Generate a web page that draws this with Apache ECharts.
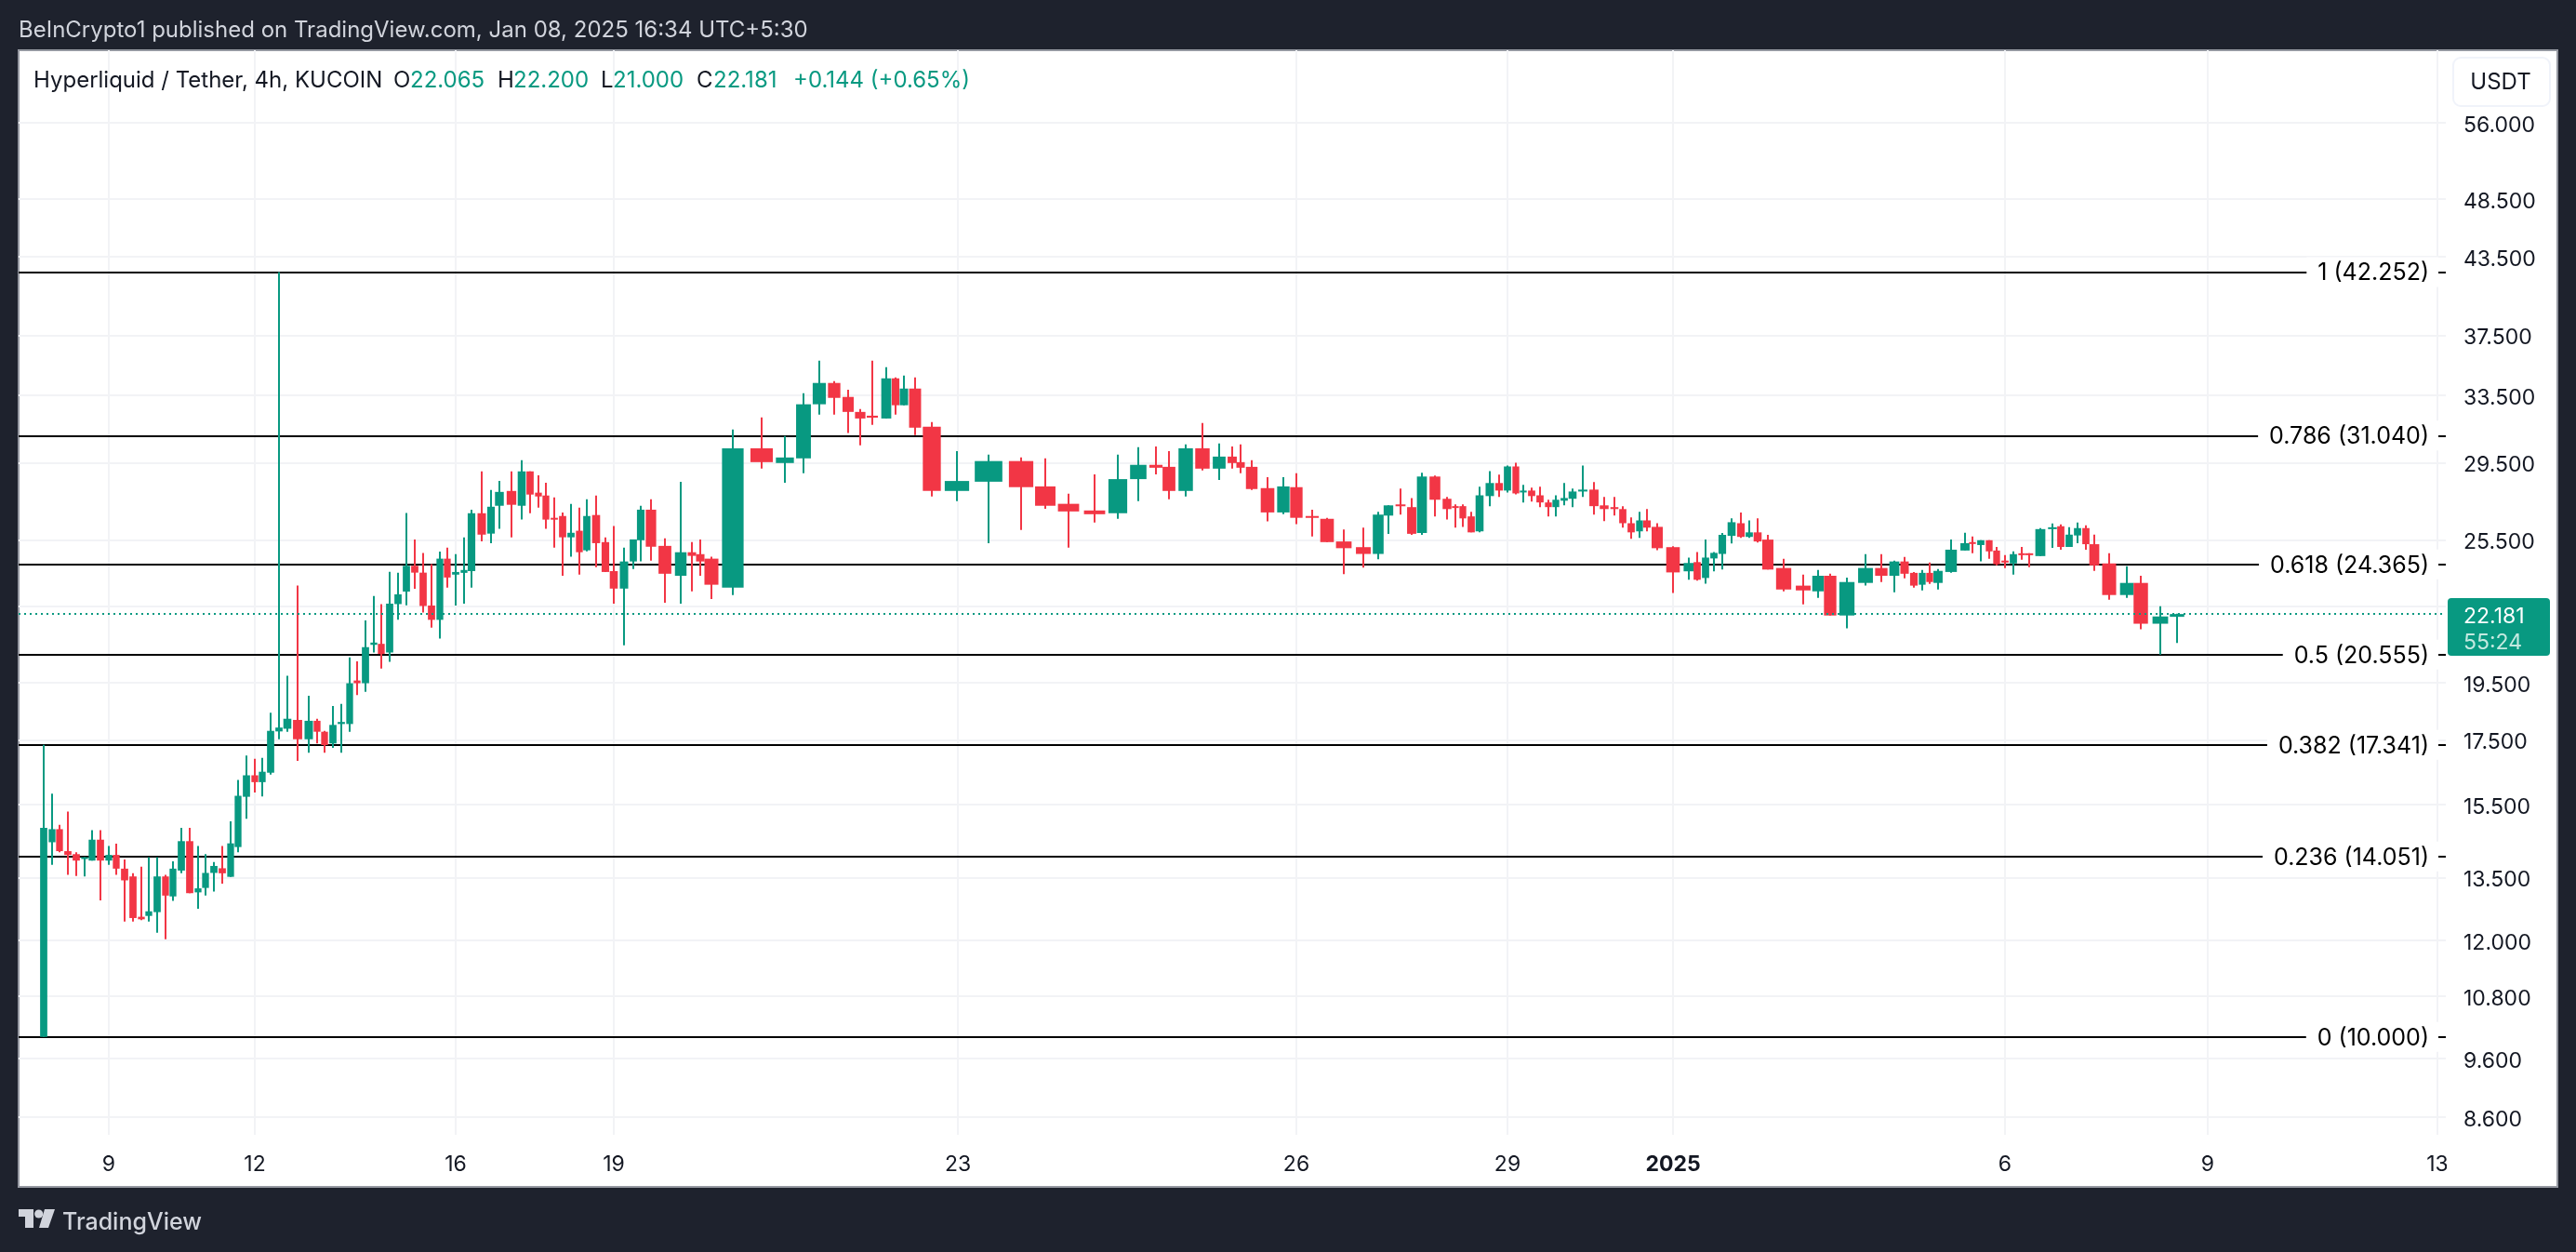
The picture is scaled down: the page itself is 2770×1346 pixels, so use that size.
<!DOCTYPE html>
<html>
<head>
<meta charset="utf-8">
<title>Hyperliquid / Tether, 4h</title>
<style>
html, body { margin: 0; padding: 0; background: #1e222d; }
#main { width: 2770px; height: 1346px; }
</style>
</head>
<body>
<div id="main"></div>
<script src="https://cdn.jsdelivr.net/npm/echarts@6/dist/echarts.min.js"></script>
<script>
// place of each bar on the chart's time scale (the scale is uneven in the picture)
var barTime = [
27,36,44,53,62,71,79,88,97,105,114,123,132,140,149,158,166,175,184,193,201,210,219,228,236,245,254,262,271,280,289,300,
312,321,329,338,347,356,364,373,382,390,399,408,417,426,435,444,453,461,470,479,487,498,508,517,530,541,550,559,567,576,
585,594,603,611,621,631,640,651,661,669,680,695,712,724,733,745,768,799,824,844,861,877,892,905,918,933,943,952,964,982,
1009,1043,1078,1104,1129,1157,1182,1204,1223,1237,1255,1273,1291,1305,1314,1326,1343,1360,1374,1391,1407,1425,1446,1462,
1473,1486,1498,1509,1523,1536,1545,1553,1562,1571,1582,1592,1601,1610,1618,1627,1636,1645,1653,1662,1671,1682,1694,1705,
1716,1725,1734,1743,1751,1762,1779,1796,1805,1814,1823,1832,1842,1852,1861,1870,1881,1898,1919,1935,1948,1966,1986,2003,
2017,2028,2038,2047,2055,2064,2078,2093,2101,2110,2119,2127,2136,2145,2154,2162,2174,2187,2196,2205,2214,2223,2232,2248,
2267,2282,2303,2321
];

// open, close, low, high
var candles = [
[10.00,14.83,10.00,17.34],[14.43,14.79,13.83,15.81],[14.79,14.19,14.16,14.91],[14.19,14.09,13.57,15.29],
[14.11,13.94,13.54,14.16],[14.00,14.03,13.53,14.03],[13.94,14.50,13.94,14.76],[14.50,13.94,12.93,14.76],
[13.94,14.09,13.83,14.33],[14.09,13.73,13.57,14.39],[13.73,13.43,12.43,13.97],[13.53,12.51,12.43,13.61],
[12.54,12.48,12.46,13.78],[12.56,12.67,12.43,14.03],[12.65,13.53,12.17,14.03],[13.53,13.05,12.02,13.57],
[13.03,13.73,12.92,13.92],[13.68,14.46,13.61,14.83],[14.46,13.11,13.11,14.83],[13.13,13.23,12.73,14.33],
[13.24,13.62,13.05,14.11],[13.62,13.80,13.15,13.90],[13.74,13.61,13.35,14.33],[13.52,14.40,13.52,15.01],
[14.30,15.75,14.16,16.23],[15.72,16.37,15.08,16.99],[16.37,16.16,15.85,16.89],[16.16,16.48,15.73,16.92],
[16.45,17.80,16.39,18.42],[17.78,17.91,17.52,42.25],[17.87,18.21,17.77,19.75],[18.17,17.52,16.82,23.40],
[17.52,18.14,17.08,19.02],[18.14,17.77,17.38,18.21],[17.77,17.33,17.08,17.80],[17.38,18.00,17.24,18.65],
[18.03,18.10,17.08,18.73],[18.03,19.47,17.77,20.44],[19.57,19.47,19.04,20.29],[19.47,20.84,19.16,21.92],
[20.93,21.02,20.63,22.95],[20.97,20.57,20.02,22.60],[20.63,22.62,20.27,24.02],[22.60,23.02,21.94,23.98],
[23.14,24.29,22.55,26.83],[24.29,23.98,23.26,25.52],[23.98,22.52,22.24,24.88],[22.54,21.94,21.62,24.37],
[21.94,24.62,21.18,24.95],[24.62,23.76,23.31,25.14],[23.89,24.01,22.54,24.83],[23.97,24.10,22.62,25.63],
[24.05,26.82,23.31,27.00],[26.82,25.76,25.44,29.02],[25.81,27.15,25.35,28.02],[27.20,27.92,26.04,28.50],
[27.97,27.25,25.63,29.02],[27.20,29.02,26.50,29.64],[29.02,27.78,26.82,29.02],[27.88,27.68,27.10,28.81],
[27.73,26.50,26.04,28.41],[26.59,26.50,25.14,27.63],[26.68,25.63,23.84,26.86],[25.63,25.85,24.71,27.30],
[25.95,24.92,23.89,27.10],[25.01,26.68,24.96,27.53],[26.73,25.35,24.23,27.73],[25.40,24.01,24.01,25.63],
[24.05,23.27,22.62,26.18],[23.27,24.49,20.91,25.14],[24.49,25.53,24.14,25.53],[25.49,27.00,24.49,27.20],
[27.00,25.18,24.53,27.53],[25.22,23.93,22.66,25.58],[23.84,24.92,22.62,28.46],[24.92,24.75,23.15,25.40],
[24.83,24.49,23.84,25.53],[24.62,23.44,22.82,24.71],[23.31,30.31,22.99,31.40],[30.31,29.53,29.17,32.12],
[29.48,29.79,28.41,31.02],[29.74,32.93,28.92,33.62],[32.93,34.28,32.29,35.75],[34.28,33.33,32.29,34.40],
[33.39,32.46,31.19,33.85],[32.46,32.06,30.48,32.64],[32.23,32.11,31.68,35.75],[32.06,34.58,32.06,35.32],
[34.58,32.87,32.29,34.64],[32.87,33.92,32.87,34.76],[33.92,31.51,31.08,34.64],[31.57,27.97,27.68,31.84],
[27.97,28.50,27.44,30.15],[28.46,29.59,25.35,29.95],[29.59,28.17,25.99,29.79],[28.21,27.20,27.05,29.74],
[27.30,26.91,25.14,27.83],[26.96,26.77,26.36,28.86],[26.82,28.60,26.54,29.95],[28.60,29.38,27.44,30.37],
[29.38,29.22,28.86,30.42],[29.27,27.97,27.53,30.15],[27.97,30.31,27.68,30.53],[30.31,29.17,29.07,31.79],
[29.17,29.84,28.55,30.59],[29.84,29.48,29.17,30.42],[29.53,29.22,28.92,30.53],[29.27,28.07,28.02,29.64],
[28.12,26.86,26.41,28.71],[26.86,28.21,26.77,28.71],[28.17,26.59,26.27,28.92],[26.68,26.59,25.67,27.00],
[26.54,25.40,25.40,26.59],[25.43,25.11,23.91,26.01],[25.16,24.84,24.21,26.10],[24.84,26.75,24.59,26.89],
[26.70,27.22,25.80,27.22],[27.27,27.18,26.75,28.09],[27.13,25.80,25.75,27.60],[25.84,28.74,25.75,28.94],
[28.74,27.51,26.66,28.79],[27.56,27.03,26.51,27.65],[27.18,27.13,26.10,27.27],[27.18,26.56,26.14,27.27],
[26.66,25.87,25.87,26.89],[25.92,27.74,25.87,28.19],[27.70,28.39,27.18,29.04],[28.39,27.99,27.65,28.84],
[27.99,29.29,27.89,29.34],[29.29,27.84,27.79,29.49],[27.89,27.99,27.37,28.29],[27.99,27.70,27.41,28.14],
[27.74,27.37,27.13,28.19],[27.37,27.13,26.66,27.51],[27.13,27.51,26.66,27.74],[27.46,27.60,27.22,28.39],
[27.56,27.94,27.13,28.09],[27.94,28.04,27.65,29.34],[28.04,27.18,26.75,28.44],[27.22,27.03,26.42,27.65],
[27.13,27.03,26.70,27.65],[27.03,26.32,26.10,27.18],[26.32,25.87,25.56,26.61],[25.92,26.46,25.60,26.89],
[26.46,26.10,25.92,27.03],[26.14,25.11,25.02,26.32],[25.16,23.99,23.08,25.20],[24.04,24.42,23.66,24.67],
[24.46,23.66,23.62,24.93],[23.74,24.67,23.49,25.52],[24.63,24.89,24.04,24.93],[24.84,25.75,24.12,25.84],
[25.70,26.37,25.34,26.56],[26.32,25.65,25.60,26.85],[25.65,25.87,25.60,26.46],[25.87,25.43,25.38,26.56],
[25.52,24.12,24.12,25.75],[24.19,23.23,23.15,24.61],[23.40,23.19,22.59,23.89],[23.15,23.84,22.87,24.10],
[23.84,22.12,22.12,23.93],[22.12,23.56,21.59,23.76],[23.52,24.19,23.40,24.83],[24.19,23.84,23.56,24.83],
[23.84,24.49,23.11,24.53],[24.49,23.93,23.72,24.70],[23.97,23.40,23.31,24.01],[23.44,23.97,23.19,24.10],
[23.97,23.56,23.48,24.44],[23.52,24.06,23.23,24.14],[24.01,25.04,23.97,25.53],[25.00,25.35,25.00,25.85],
[25.40,25.35,24.87,25.67],[25.26,25.49,24.49,25.49],[25.49,24.96,24.61,25.49],[25.00,24.36,24.31,25.17],
[24.53,24.44,24.19,24.79],[24.40,24.83,23.89,24.96],[24.87,24.79,24.57,25.17],[24.87,24.80,24.23,24.87],
[24.74,26.03,24.74,26.08],[26.08,26.12,25.13,26.31],[26.17,25.17,25.04,26.26],[25.17,25.76,25.17,26.12],
[25.72,26.08,25.35,26.35],[26.08,25.30,25.04,26.22],[25.30,24.31,24.06,25.76],[24.40,22.99,22.79,24.87],
[22.99,23.52,22.87,24.27],[23.52,21.78,21.55,23.84],[21.78,22.08,20.55,22.51],[22.065,22.181,21.00,22.20]
];

var timeTicks = [97, 254, 470, 640, 1010, 1374, 1601, 1779, 2136, 2354, 2601];
var timeLabels = ['9', '12', '16', '19', '23', '26', '29', '2025', '6', '9', '13'];
var priceTicks = [56, 48.5, 43.5, 37.5, 33.5, 29.5, 25.5, 22.5, 19.5, 17.5, 15.5, 13.5, 12, 10.8, 9.6, 8.6];
var priceLabels = [56, 48.5, 43.5, 37.5, 33.5, 29.5, 25.5, 19.5, 17.5, 15.5, 13.5, 12, 10.8, 9.6, 8.6];
var fibLevels = [42.252, 31.04, 24.365, 20.555, 17.341, 14.051, 10];
var fibNames = ['1 (42.252)', '0.786 (31.040)', '0.618 (24.365)', '0.5 (20.555)', '0.382 (17.341)', '0.236 (14.051)', '0 (10.000)'];
var lastPrice = 22.181;

var UP = '#089981', DOWN = '#F23645';
var FONT = 'Inter, "Noto Sans", sans-serif';

function renderCandle(params, api) {
    var i = params.dataIndex;
    var t = api.value(0);
    var open = api.value(1), close = api.value(2);
    var prev = i > 0 ? barTime[i - 1] : barTime[i + 1] - 2 * (barTime[i + 1] - t);
    var next = i < barTime.length - 1 ? barTime[i + 1] : t + (t - prev);
    var w = api.size([(next - prev) / 2, 0])[0] * 0.86;
    var x = Math.round(api.coord([t, open])[0]);
    var yTop = api.coord([t, Math.max(open, close)])[1];
    var yBot = api.coord([t, Math.min(open, close)])[1];
    var yHigh = api.coord([t, api.value(4)])[1];
    var yLow = api.coord([t, api.value(3)])[1];
    var color = close >= open ? UP : DOWN;
    return {
        type: 'group',
        children: [
            { type: 'rect', shape: { x: x - 1, y: yHigh, width: 2, height: yLow - yHigh }, style: { fill: color } },
            { type: 'rect', shape: { x: x - w / 2, y: yTop, width: w, height: Math.max(yBot - yTop, 2) }, style: { fill: color } }
        ]
    };
}

var chart = echarts.init(document.getElementById('main'));

var legendBits = [
    [36, 'Hyperliquid / Tether, 4h, KUCOIN', '#131722'],
    [423, 'O', '#131722'], [441, '22.065', UP],
    [535, 'H', '#131722'], [552, '22.200', UP],
    [646, 'L', '#131722'], [659, '21.000', UP],
    [749, 'C', '#131722'], [767, '22.181', UP],
    [853, '+0.144 (+0.65%)', UP]
];

var decor = [
    { type: 'rect', z: -10, shape: { x: 20, y: 54, width: 2730, height: 1222 }, style: { fill: '#fff', stroke: '#9598a1', lineWidth: 2 } },
    { type: 'text', x: 20, y: 33, style: { text: 'BeInCrypto1 published on TradingView.com, Jan 08, 2025 16:34 UTC+5:30', font: '24px ' + FONT, fill: '#d1d4dc', verticalAlign: 'middle' } },
    { type: 'rect', z: 20, shape: { x: 2638, y: 62, width: 104, height: 52, r: 8 }, style: { fill: '#fff', stroke: '#f0f3fa', lineWidth: 2 } },
    { type: 'text', z: 21, x: 2689, y: 89, style: { text: 'USDT', font: '24px ' + FONT, fill: '#131722', align: 'center', verticalAlign: 'middle' } },
    { type: 'rect', z: 100, shape: { x: 2632, y: 643, width: 110, height: 62, r: 4 }, style: { fill: UP } },
    { type: 'text', z: 101, x: 2649, y: 663, style: { text: '22.181', font: '23px ' + FONT, fill: '#fff', verticalAlign: 'middle' } },
    { type: 'text', z: 101, x: 2649, y: 691, style: { text: '55:24', font: '23px ' + FONT, fill: '#c4e9e0', verticalAlign: 'middle' } },
    // the last time label is cut off by the price scale
    { type: 'rect', z: 50, shape: { x: 2631, y: 1228, width: 14, height: 40 }, style: { fill: '#fff' } },
    // TradingView mark
    { type: 'polygon', shape: { points: [[20, 1300], [36, 1300], [36, 1320], [27, 1320], [27, 1308], [20, 1308]] }, style: { fill: '#d1d4dc' } },
    { type: 'circle', shape: { cx: 41.7, cy: 1305, r: 4.6 }, style: { fill: '#d1d4dc' } },
    { type: 'polygon', shape: { points: [[48, 1300], [59, 1300], [52, 1320], [42, 1320]] }, style: { fill: '#d1d4dc' } },
    { type: 'text', x: 67, y: 1314, style: { text: 'TradingView', font: '500 25px ' + FONT, fill: '#d1d4dc', verticalAlign: 'middle' } }
];
legendBits.forEach(function (b) {
    decor.push({ type: 'text', z: 21, x: b[0], y: 87, style: { text: b[1], font: '24px ' + FONT, fill: b[2], verticalAlign: 'middle' } });
});

chart.setOption({
    animation: false,
    backgroundColor: '#1e222d',
    graphic: { elements: decor },
    grid: { left: 20, top: 54, width: 2610, height: 1166, containLabel: false },
    xAxis: {
        type: 'value',
        min: 0,
        max: 2610,
        axisLine: { show: false },
        axisTick: { show: false, customValues: timeTicks },
        splitLine: { show: true, lineStyle: { color: '#f2f3f6', width: 2 } },
        axisLabel: {
            customValues: timeTicks,
            margin: 21,
            fontFamily: FONT,
            fontSize: 23,
            color: '#131722',
            hideOverlap: false,
            formatter: function (v) {
                var s = timeLabels[timeTicks.indexOf(v)];
                return s === '2025' ? '{b|' + s + '}' : s;
            },
            rich: { b: { fontFamily: FONT, fontSize: 23, fontWeight: 'bold', color: '#131722' } }
        }
    },
    yAxis: {
        type: 'log',
        logBase: 10,
        position: 'right',
        min: 8.316,
        max: 64.16,
        axisLine: { show: false },
        axisTick: { show: false, customValues: priceTicks },
        splitLine: { show: true, lineStyle: { color: '#f2f3f6', width: 2 } },
        minorTick: { show: false },
        axisLabel: {
            customValues: priceLabels,
            margin: 19,
            align: 'left',
            formatter: function (v) { return '{p|' + Number(v).toFixed(3) + '}'; },
            rich: { p: { fontFamily: FONT, fontSize: 23, color: '#131722', padding: [6, 0, 0, 0] } }
        }
    },
    series: [
        {
            name: 'Fibonacci',
            type: 'line',
            data: [],
            z: 1,
            markLine: {
                silent: true,
                symbol: 'none',
                animation: false,
                z: 1,
                lineStyle: { color: '#000', width: 2, type: 'solid' },
                data: fibLevels.map(function (v, i) {
                    return {
                        yAxis: v,
                        label: {
                            show: true,
                            position: 'insideEnd',
                            distance: 8,
                            formatter: '{f|' + fibNames[i] + '}',
                            rich: { f: { fontFamily: FONT, fontSize: 25, color: '#000', padding: [3, 0, 0, 0] } },
                            backgroundColor: '#fff',
                            padding: [2, 10, 2, 12]
                        }
                    };
                })
            }
        },
        {
            name: 'HYPE/USDT',
            type: 'custom',
            z: 5,
            clip: true,
            renderItem: renderCandle,
            encode: { x: 0, y: [1, 2, 3, 4] },
            data: candles.map(function (c, i) { return [barTime[i], c[0], c[1], c[2], c[3]]; })
        },
        {
            name: 'Last price',
            type: 'line',
            data: [],
            z: 6,
            markLine: {
                silent: true,
                symbol: 'none',
                animation: false,
                z: 6,
                label: { show: false },
                lineStyle: { color: UP, width: 2, type: [2, 4] },
                data: [{ yAxis: lastPrice }]
            }
        }
    ]
});
</script>
</body>
</html>
